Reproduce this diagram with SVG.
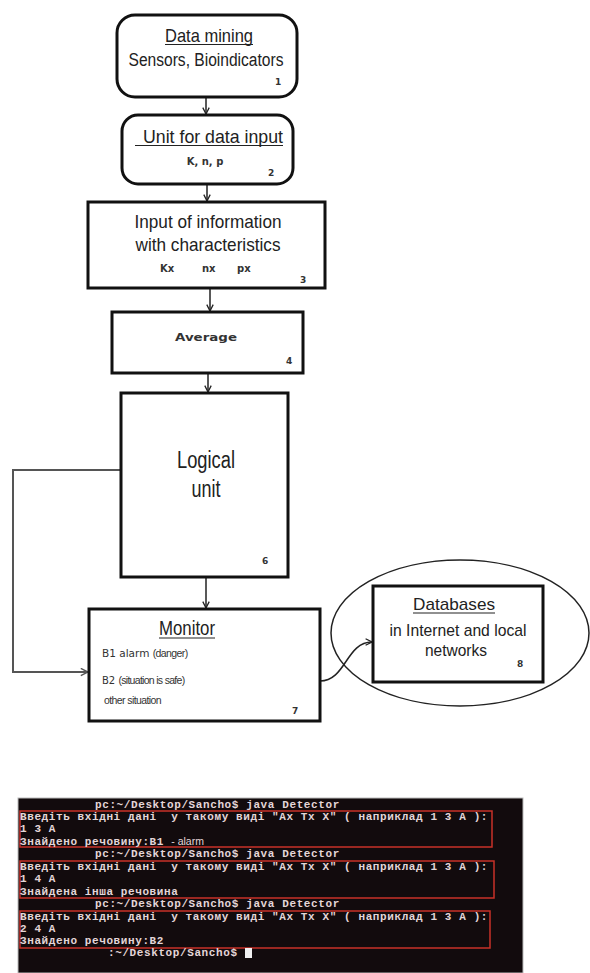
<svg xmlns="http://www.w3.org/2000/svg" width="590" height="973" viewBox="0 0 590 973">
<style>
.box{fill:#fff;stroke:#111;stroke-width:3}
.t{font-family:"Liberation Sans",Arial,sans-serif;fill:#222;text-anchor:middle}
.n{font-family:"DejaVu Sans",Verdana,sans-serif;font-weight:bold;fill:#333;font-size:9px}
.v{font-family:"DejaVu Sans",Verdana,sans-serif;fill:#333}
.c{fill:none;stroke:#222;stroke-width:1.5}
.g{fill:none;stroke:#555;stroke-width:2}
.u{stroke:#222;stroke-width:1.2}
.term{font-family:"Liberation Mono","DejaVu Sans Mono",monospace;font-weight:bold;font-size:11px;letter-spacing:0.6px;fill:#e4d6d8}
.red{fill:none;stroke:#c83228;stroke-width:1.5}
</style>
<defs>
<marker id="ah" viewBox="0 0 10 10" refX="9" refY="5" markerWidth="8" markerHeight="8" markerUnits="userSpaceOnUse" orient="auto">
<path d="M1,1 L9,5 L1,9" fill="none" stroke="#222" stroke-width="1.6"/>
</marker>
<marker id="ahg" viewBox="0 0 10 10" refX="9" refY="5" markerWidth="9" markerHeight="9" markerUnits="userSpaceOnUse" orient="auto">
<path d="M1,1 L9,5 L1,9" fill="none" stroke="#555" stroke-width="1.6"/>
</marker>
</defs>
<rect width="590" height="973" fill="#fff"/>

<g id="connectors">
<path class="c" d="M206,97 L206,114" marker-end="url(#ah)"/>
<path class="c" d="M207,184 L207,201" marker-end="url(#ah)"/>
<path class="c" d="M210,288 L210,311" marker-end="url(#ah)"/>
<path class="c" d="M208,373 L208,392" marker-end="url(#ah)"/>
<path class="c" d="M206,577 L206,608" marker-end="url(#ah)"/>
<path class="g" d="M121,470 L13,470 L13,672 L88,672" marker-end="url(#ahg)"/>
<path class="c" d="M320,681 C346,681 346,642 372,642" marker-end="url(#ah)"/>
</g>

<g id="node1">
<rect class="box" x="117" y="15" width="180" height="82" rx="18"/>
<text class="t" x="209" y="42" font-size="19" textLength="88" lengthAdjust="spacingAndGlyphs">Data mining</text>
<line class="u" x1="165" y1="44.5" x2="253" y2="44.5"/>
<text class="t" x="206" y="66" font-size="18" textLength="155" lengthAdjust="spacingAndGlyphs">Sensors, Bioindicators</text>
<text class="n" x="275" y="85">1</text>
</g>

<g id="node2">
<rect class="box" x="122" y="115" width="171" height="69" rx="16"/>
<text class="t" x="213" y="143" font-size="19" textLength="140" lengthAdjust="spacingAndGlyphs">Unit for data input</text>
<line class="u" x1="135" y1="145.5" x2="283" y2="145.5"/>
<text class="v" x="205" y="165" font-size="10" font-weight="bold" text-anchor="middle">K, n, p</text>
<text class="n" x="268" y="176">2</text>
</g>

<g id="node3">
<rect class="box" x="88" y="202" width="237" height="86"/>
<text class="t" x="208" y="228" font-size="19" textLength="147" lengthAdjust="spacingAndGlyphs">Input of information</text>
<text class="t" x="208" y="251" font-size="19" textLength="145" lengthAdjust="spacingAndGlyphs">with characteristics</text>
<text class="v" x="160" y="272" font-size="10" font-weight="bold">Kx</text>
<text class="v" x="202" y="272" font-size="10" font-weight="bold">nx</text>
<text class="v" x="237" y="272" font-size="10" font-weight="bold">px</text>
<text class="n" x="300" y="283">3</text>
</g>

<g id="node4">
<rect class="box" x="112" y="312" width="191" height="61"/>
<text class="v" x="206" y="341" font-size="11" font-weight="bold" text-anchor="middle" textLength="62" lengthAdjust="spacingAndGlyphs">Average</text>
<text class="n" x="286" y="364">4</text>
</g>

<g id="node6">
<rect class="box" x="121" y="393" width="167" height="184"/>
<text class="t" x="206" y="468" font-size="23" textLength="58" lengthAdjust="spacingAndGlyphs">Logical</text>
<text class="t" x="206" y="497" font-size="23" textLength="29" lengthAdjust="spacingAndGlyphs">unit</text>
<text class="n" x="262" y="564">6</text>
</g>

<g id="node7">
<rect class="box" x="89" y="609" width="231" height="112"/>
<text class="t" x="187" y="635" font-size="20" textLength="56" lengthAdjust="spacingAndGlyphs">Monitor</text>
<line class="u" x1="159" y1="638" x2="215" y2="638"/>
<text class="v" x="102" y="657" font-size="10.5">B1 alarm <tspan font-family="Liberation Sans, Arial, sans-serif" font-size="10.5" letter-spacing="-0.6">(danger)</tspan></text>
<text class="v" x="102" y="684" font-size="10">B2 <tspan font-family="Liberation Sans, Arial, sans-serif" font-size="10.5" letter-spacing="-0.7">(situation is safe)</tspan></text>
<text x="104" y="704" font-family="Liberation Sans, Arial, sans-serif" font-size="10.5" letter-spacing="-0.6" fill="#333">other situation</text>
<text class="n" x="292" y="714">7</text>
</g>

<g id="node8">
<ellipse cx="460" cy="633" rx="129" ry="73" fill="none" stroke="#222" stroke-width="1.5"/>
<rect class="box" x="373" y="586" width="170" height="96"/>
<text class="t" x="454" y="610" font-size="17" textLength="82" lengthAdjust="spacingAndGlyphs">Databases</text>
<line class="u" x1="413" y1="613" x2="495" y2="613"/>
<text class="t" x="458" y="636" font-size="17" textLength="137" lengthAdjust="spacingAndGlyphs">in Internet and local</text>
<text class="t" x="456" y="656" font-size="17" textLength="62" lengthAdjust="spacingAndGlyphs">networks</text>
<text class="n" x="517" y="667" fill="#6a2020" font-size="8">8</text>
</g>

<g id="terminal">
<rect x="18" y="798" width="505" height="175" fill="#120b0d" stroke="#bbb" stroke-width="1"/>
<rect class="red" x="20" y="811" width="472" height="36"/>
<rect class="red" x="20" y="861" width="474" height="37"/>
<rect class="red" x="20" y="911" width="470" height="37"/>
<text class="term" x="95" y="808">pc:~/Desktop/Sancho$ java Detector</text>
<text class="term" x="20" y="820" xml:space="preserve">Введіть вхідні дані  у такому виді "Ax Tx X" ( наприклад 1 3 А ):</text>
<text class="term" x="20" y="832">1 3 А</text>
<text class="term" x="20" y="845">Знайдено речовину:B1 <tspan font-family="Liberation Sans, Arial, sans-serif" font-weight="normal" font-size="10.5" letter-spacing="0">- alarm</tspan></text>
<text class="term" x="95" y="857">pc:~/Desktop/Sancho$ java Detector</text>
<text class="term" x="20" y="870" xml:space="preserve">Введіть вхідні дані  у такому виді "Ax Tx X" ( наприклад 1 3 А ):</text>
<text class="term" x="20" y="882">1 4 А</text>
<text class="term" x="20" y="895">Знайдена інша речовина</text>
<text class="term" x="95" y="907">pc:~/Desktop/Sancho$ java Detector</text>
<text class="term" x="20" y="920" xml:space="preserve">Введіть вхідні дані  у такому виді "Ax Tx X" ( наприклад 1 3 А ):</text>
<text class="term" x="20" y="932">2 4 А</text>
<text class="term" x="20" y="944">Знайдено речовину:B2</text>
<text class="term" x="108" y="956">:~/Desktop/Sancho$</text>
<rect x="245" y="948" width="7" height="10" fill="#f0f0f0"/>
</g>
</svg>
